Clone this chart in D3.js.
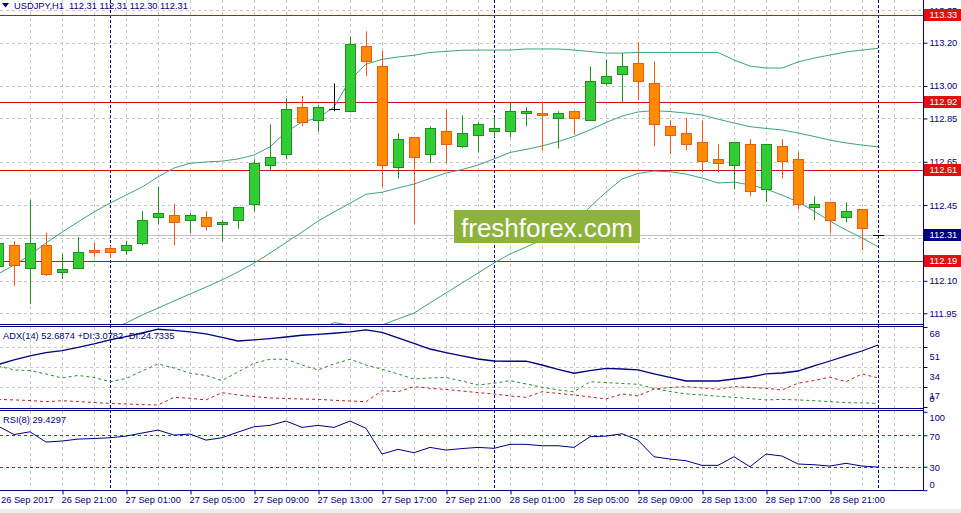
<!DOCTYPE html>
<html><head><meta charset="utf-8">
<script src="https://cdn.jsdelivr.net/npm/d3@7"></script>
<style>
html,body{margin:0;padding:0;background:#fff;}
svg{display:block;font-family:"Liberation Sans",Arial,sans-serif;}
</style></head><body>
<svg id="c" width="961" height="513"></svg>
<script>
// ---------- DATA ----------
const symbolTitle = "USDJPY,H1  112.31 112.31 112.30 112.31";
const adxTitle = "ADX(14) 52.6874 +DI:3.0782 -DI:24.7335";
const rsiTitle = "RSI(8) 29.4297";

const xTickIdx = [0,4,8,12,16,20,24,28,32,36,40,44,48,52];
const xTickLabels = ["26 Sep 2017","26 Sep 21:00","27 Sep 01:00","27 Sep 05:00","27 Sep 09:00","27 Sep 13:00","27 Sep 17:00","27 Sep 21:00","28 Sep 01:00","28 Sep 05:00","28 Sep 09:00","28 Sep 13:00","28 Sep 17:00","28 Sep 21:00"];
const daySeparators = [7,31,55];

const open = [112.170,112.264,112.161,112.264,112.139,112.161,112.241,112.250,112.241,112.273,
112.393,112.404,112.380,112.393,112.361,112.380,112.455,112.634,112.684,112.901,
112.841,112.892,112.883,113.183,113.091,112.624,112.763,112.684,112.791,112.721,
112.772,112.791,112.791,112.874,112.874,112.851,112.883,112.841,113.012,113.054,
113.105,113.012,112.814,112.781,112.740,112.661,112.634,112.731,112.523,112.721,
112.661,112.440,112.463,112.393,112.430,112.310];
const high = [112.298,112.284,112.473,112.322,112.224,112.302,112.276,112.261,112.284,112.422,
112.535,112.455,112.413,112.421,112.380,112.441,112.661,112.823,112.943,112.954,
112.911,113.012,113.228,113.252,113.163,112.781,112.765,112.814,112.892,112.864,
112.832,112.855,112.925,112.901,112.929,112.883,112.885,113.091,113.123,113.151,
113.202,113.114,112.841,112.851,112.841,112.731,112.742,112.754,112.733,112.754,
112.694,112.490,112.465,112.463,112.432,112.310];
const low = [112.159,112.077,111.992,112.122,112.108,112.153,112.211,112.207,112.221,112.264,
112.361,112.264,112.319,112.333,112.283,112.341,112.419,112.610,112.661,112.814,
112.789,112.883,112.878,113.045,112.531,112.573,112.361,112.643,112.643,112.713,
112.694,112.763,112.763,112.814,112.703,112.712,112.777,112.838,113.003,112.925,
112.934,112.721,112.684,112.703,112.601,112.601,112.523,112.490,112.463,112.573,
112.430,112.380,112.319,112.370,112.241,112.300];
const close = [112.276,112.172,112.273,112.130,112.155,112.232,112.232,112.232,112.264,112.380,
112.412,112.370,112.404,112.352,112.370,112.440,112.643,112.670,112.892,112.832,
112.901,112.892,113.192,113.114,112.634,112.754,112.670,112.804,112.731,112.781,
112.823,112.804,112.883,112.883,112.864,112.874,112.851,113.022,113.045,113.091,
113.022,112.823,112.772,112.731,112.652,112.643,112.740,112.513,112.731,112.652,
112.453,112.453,112.380,112.421,112.343,112.310];

const bbUpper = [112.131,112.173,112.219,112.275,112.325,112.372,112.418,112.459,112.496,112.533,
112.580,112.621,112.643,112.649,112.653,112.663,112.681,112.719,112.787,112.834,
112.852,112.903,113.027,113.101,113.123,113.134,113.142,113.155,113.160,113.165,
113.166,113.166,113.166,113.171,113.171,113.171,113.166,113.159,113.152,113.152,
113.155,113.155,113.155,113.155,113.155,113.155,113.120,113.092,113.083,113.083,
113.111,113.129,113.143,113.157,113.166,113.174];
const bbMiddle = [null,null,null,null,null,null,111.836,111.873,111.905,111.942,
111.974,112.007,112.039,112.071,112.104,112.141,112.182,112.228,112.277,112.325,
112.376,112.418,112.458,112.500,112.509,112.529,112.547,112.573,112.598,112.614,
112.635,112.663,112.693,112.707,112.723,112.743,112.767,112.797,112.831,112.861,
112.880,112.886,112.882,112.875,112.866,112.847,112.829,112.812,112.804,112.797,
112.783,112.767,112.750,112.737,112.727,112.719];
const bbLower = [null,null,null,null,null,null,null,null,null,null,
null,null,null,null,null,null,null,null,null,null,
111.873,111.907,111.896,111.891,111.896,111.924,111.951,111.998,112.044,112.090,
112.136,112.182,112.224,112.256,112.289,112.325,112.372,112.441,112.510,112.570,
112.596,112.607,112.604,112.593,112.575,112.552,112.556,112.543,112.524,112.496,
112.465,112.422,112.376,112.335,112.298,112.258];

const adx = [36.1,40.0,43.4,46.3,48.0,50.6,53.6,57.0,59.9,62.9,
66.1,65.1,63.8,62.1,59.1,56.1,57.0,58.2,59.5,61.0,
61.8,62.7,63.8,65.5,63.4,58.7,54.0,49.3,46.3,43.4,
40.8,39.1,38.9,38.9,35.7,31.9,28.7,31.0,32.9,32.3,
31.5,28.1,25.1,22.1,22.1,22.1,23.8,25.5,28.1,28.9,
30.6,34.9,39.1,43.4,47.6,52.7];
const plusDI = [34.9,31.5,30.9,28.1,24.7,26.8,25.1,21.5,24.2,30.6,
36.6,33.2,28.7,26.8,22.5,29.8,37.2,40.6,40.6,35.7,
31.5,36.6,40.6,35.7,32.1,28.1,23.8,24.7,25.1,22.1,
18.7,20.2,22.4,19.6,16.8,14.5,13.0,21.5,20.8,20.0,
19.3,15.7,13.2,11.1,10.2,9.2,8.2,7.1,6.0,6.5,
6.0,5.4,4.5,3.7,3.5,3.1];
const minusDI = [6.5,6.0,5.5,4.5,5.3,4.7,3.8,3.1,2.6,2.0,
1.7,8.2,7.4,6.0,12.2,10.2,8.9,7.7,7.2,6.8,
6.5,5.7,5.1,4.5,13.9,13.0,17.3,15.9,14.9,13.6,
12.2,11.1,9.4,8.2,13.0,11.5,10.2,8.5,6.8,11.1,
9.4,15.3,16.6,17.3,16.2,15.1,17.3,16.6,15.9,14.5,
20.2,22.5,25.3,21.5,28.1,24.7];
const rsi = [81.8,71.0,74.5,61.4,62.7,65.2,65.9,66.9,69.0,72.9,
76.7,70.3,71.6,63.9,66.9,74.1,80.9,82.7,88.2,80.1,
82.7,80.1,88.2,78.9,46.1,52.1,47.8,54.6,51.2,53.1,
54.6,53.4,58.5,58.5,56.7,56.7,54.6,68.2,69.0,72.0,
63.9,42.7,39.7,37.6,31.7,31.7,42.7,29.9,46.1,43.6,
33.4,32.5,30.8,34.3,30.8,29.4];

const priceTicks = [113.35,113.20,113.00,112.85,112.65,112.45,112.30,112.10,111.95];
const levelValues = [113.33,112.925,112.61,112.19];
const levelLabels = ["113.33","112.92","112.61","112.19"];
const bidPrice = 112.31;
const adxTicks = [68,51,34,17,0];
const adxGrid = [51,34,17];
const rsiTicks = [100,70,30,0];
const rsiLevels = [70,30];
const watermark = "freshforex.com";

// ---------- CHART ----------
const NAVY = "#000080", FONT = 9.3;
const svg = d3.select("#c");
svg.append("rect").attr("width",961).attr("height",513).attr("fill","#fff");
svg.append("rect").attr("x",0).attr("y",509).attr("width",961).attr("height",4).attr("fill","#ececec");

const RX = 923.5;
const defs = svg.append("defs");
function clip(id,y0,y1){defs.append("clipPath").attr("id",id).append("rect").attr("x",0).attr("y",y0).attr("width",923).attr("height",y1-y0);}
clip("cm",0,324); clip("ca",327,408); clip("cr",411,490);

const idx = d3.range(close.length);
const x = d3.scaleLinear().domain([0,55]).range([-2,878]);
const yP = d3.scaleLinear().domain([111.95,113.20]).range([313.3,42.7]);
const yA = d3.scaleLinear().domain([0,68]).range([407,327]);
const yR = d3.scaleLinear().domain([0,100]).range([490.2,411.8]);
const px = v => Math.round(v)+0.5;

// grid
const grid = svg.append("g").attr("stroke","#c8c8c8").attr("stroke-dasharray","3,3").attr("stroke-width",1);
const vIdx = d3.range(2,57,2);
[[0,324],[327,408],[411,490]].forEach(([a,b])=>{
  grid.append("g").selectAll("line").data(vIdx).join("line")
    .attr("x1",d=>px(x(d))).attr("x2",d=>px(x(d))).attr("y1",a).attr("y2",b);
});
grid.append("g").selectAll("line").data(priceTicks).join("line")
  .attr("x1",0).attr("x2",923).attr("y1",d=>px(yP(d))).attr("y2",d=>px(yP(d)));
grid.append("g").selectAll("line").data(adxGrid).join("line")
  .attr("x1",0).attr("x2",923).attr("y1",d=>px(yA(d))).attr("y2",d=>px(yA(d)));

// bid line
svg.append("line").attr("x1",0).attr("x2",923).attr("y1",px(yP(bidPrice))).attr("y2",px(yP(bidPrice)))
  .attr("stroke","#c0c0c0");

// day separators
svg.append("g").selectAll("line").data(daySeparators).join("line")
  .attr("x1",d=>px(x(d))).attr("x2",d=>px(x(d))).attr("y1",0).attr("y2",490)
  .attr("stroke",NAVY).attr("stroke-dasharray","3,2");

// level lines
svg.append("g").selectAll("line").data(levelValues).join("line")
  .attr("x1",0).attr("x2",923).attr("y1",d=>px(yP(d))).attr("y2",d=>px(yP(d)))
  .attr("stroke","#d01010");

// bollinger
const main = svg.append("g").attr("clip-path","url(#cm)");
[bbUpper,bbMiddle,bbLower].forEach(arr=>{
  const ln = d3.line().defined(i=>arr[i]!=null).x(i=>x(i)).y(i=>yP(arr[i]));
  main.append("path").attr("d",ln(idx)).attr("fill","none").attr("stroke","#3fa37c").attr("stroke-width",1);
});

// candles
const cg = main.append("g");
idx.forEach(i=>{
  const o=open[i], c=close[i], h=high[i], l=low[i];
  const cx = Math.round(x(i));
  const bull = c>o, doji = c===o;
  const stroke = doji ? "#000" : (bull ? "#1f8f1f" : "#f05a14");
  const fill = bull ? "#32cd32" : "#ff8c00";
  cg.append("line").attr("x1",cx+0.5).attr("x2",cx+0.5).attr("y1",yP(h)).attr("y2",yP(l)).attr("stroke",stroke);
  if (doji) {
    cg.append("line").attr("x1",cx-5).attr("x2",cx+6).attr("y1",px(yP(o))).attr("y2",px(yP(o))).attr("stroke","#000");
  } else {
    const t = yP(Math.max(o,c)), b = yP(Math.min(o,c));
    cg.append("rect").attr("x",cx-4.5).attr("y",Math.round(t)+0.5).attr("width",10)
      .attr("height",Math.max(1,Math.round(b)-Math.round(t))).attr("fill",fill).attr("stroke",stroke);
  }
});

// watermark
svg.append("rect").attr("x",454).attr("y",210).attr("width",186).attr("height",33).attr("fill","#8db33c");
svg.append("text").attr("x",547).attr("y",236.5).attr("text-anchor","middle").attr("fill","#fff")
  .attr("font-size",26).text(watermark);

// ADX panel
const ag = svg.append("g").attr("clip-path","url(#ca)");
const lnA = arr => d3.line().x(i=>x(i)).y(i=>yA(arr[i]))(idx);
ag.append("path").attr("d",lnA(plusDI)).attr("fill","none").attr("stroke","#2a8a2a").attr("stroke-dasharray","3,3");
ag.append("path").attr("d",lnA(minusDI)).attr("fill","none").attr("stroke","#c02020").attr("stroke-dasharray","3,3");
ag.append("path").attr("d",lnA(adx)).attr("fill","none").attr("stroke",NAVY).attr("stroke-width",1.3);

// RSI panel
const rg = svg.append("g").attr("clip-path","url(#cr)");
rg.selectAll("line").data(rsiLevels).join("line")
  .attr("x1",0).attr("x2",923).attr("y1",d=>px(yR(d))).attr("y2",d=>px(yR(d)))
  .attr("stroke","#c01818").attr("stroke-dasharray","3,3");
rg.append("path").attr("d",d3.line().x(i=>x(i)).y(i=>yR(rsi[i]))(idx)).attr("fill","none").attr("stroke",NAVY).attr("stroke-width",1);

// frames
const fr = svg.append("g").attr("stroke",NAVY).attr("stroke-width",1);
[324.5,326.5,408.5,410.5,490.5].forEach(y=>fr.append("line").attr("x1",0).attr("x2",RX).attr("y1",y).attr("y2",y));
fr.append("line").attr("x1",RX).attr("x2",RX).attr("y1",0).attr("y2",490.5);

// right price axis
function styleAxis(g){
  g.select(".domain").remove();
  g.selectAll("line").attr("stroke",NAVY);
  g.selectAll("text").attr("fill",NAVY).attr("font-size",FONT).attr("font-family",'"Liberation Sans",Arial,sans-serif');
}
svg.append("g").attr("transform",`translate(${RX},0)`)
  .call(d3.axisRight(yP).tickValues(priceTicks).tickSize(4).tickPadding(2).tickFormat(d=>d.toFixed(2)))
  .call(styleAxis);

// level labels
const lv = svg.append("g");
levelValues.forEach((v,k)=>{
  const y = Math.round(yP(v));
  lv.append("rect").attr("x",924).attr("y",y-6).attr("width",37).attr("height",12).attr("fill","#e01010");
  lv.append("text").attr("x",929.5).attr("y",y+3.3).attr("fill","#fff").attr("font-size",FONT).text(levelLabels[k]);
});
{
  const y = Math.round(yP(bidPrice));
  lv.append("rect").attr("x",924).attr("y",y-6).attr("width",37).attr("height",12).attr("fill",NAVY);
  lv.append("text").attr("x",929.5).attr("y",y+3.3).attr("fill","#fff").attr("font-size",FONT).text(bidPrice.toFixed(2));
}

// ADX axis
const adxOff = {68:7,51:9.5,34:10,17:9,0:-8};
svg.append("g").attr("transform",`translate(${RX},0)`)
  .call(d3.axisRight(yA).tickValues(adxTicks).tickSize(4).tickPadding(2).tickFormat(d=>String(d)))
  .call(styleAxis)
  .call(g=>g.selectAll("text").attr("y",d=>adxOff[d]));
// RSI axis
const rsiOff = {100:5.5,70:0.7,30:0.6,0:-6};
svg.append("g").attr("transform",`translate(${RX},0)`)
  .call(d3.axisRight(yR).tickValues(rsiTicks).tickSize(4).tickPadding(2).tickFormat(d=>String(d)))
  .call(styleAxis)
  .call(g=>g.selectAll("text").attr("y",d=>rsiOff[d]));

// bottom time axis
svg.append("g").attr("transform","translate(0,490.5)")
  .call(d3.axisBottom(x).tickValues(xTickIdx).tickSize(4).tickFormat((d,k)=>xTickLabels[k]))
  .call(styleAxis)
  .call(g=>g.selectAll(".tick line").attr("transform","translate(0.5,0)"))
  .call(g=>g.selectAll("text").attr("text-anchor","start").attr("x",d=>Math.max(-1, 0.5 - x(d))).attr("y",12.8).attr("dy",0));

// titles
svg.append("path").attr("d","M2,3 L9,3 L5.5,7.5 Z").attr("fill",NAVY);
svg.append("text").attr("x",14).attr("y",9).attr("fill",NAVY).attr("font-size",FONT).attr("xml:space","preserve").style("white-space","pre").text(symbolTitle);
svg.append("text").attr("x",3).attr("y",338.5).attr("fill",NAVY).attr("font-size",FONT).text(adxTitle);
svg.append("text").attr("x",3).attr("y",422.5).attr("fill",NAVY).attr("font-size",FONT).text(rsiTitle);
</script>
</body></html>
